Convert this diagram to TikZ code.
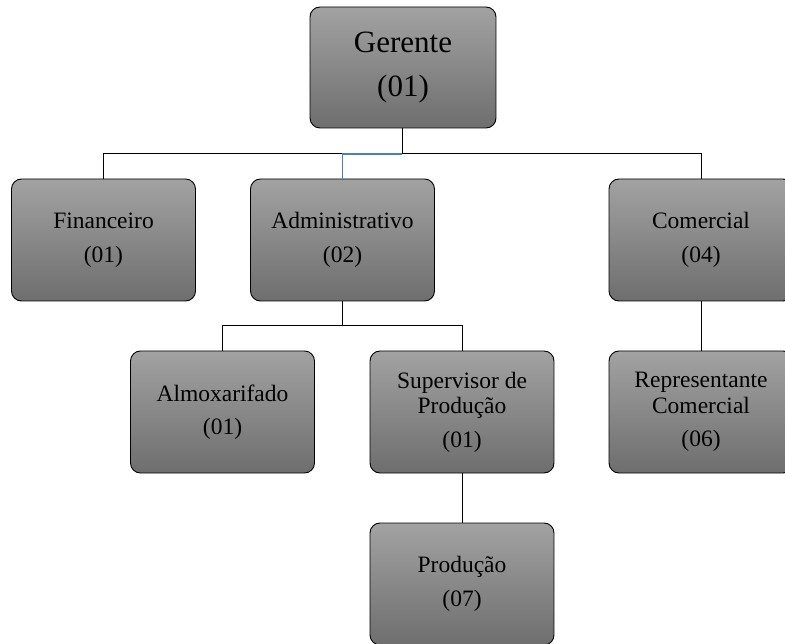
\documentclass[tikz,border=0pt]{standalone}
\usepackage{fontspec}
\setmainfont{Liberation Serif}

\tikzset{
  cargo/.style={draw=black, line width=0.9pt, rounded corners=10pt,
    top color={rgb,255:red,162;green,162;blue,162},
    bottom color={rgb,255:red,110;green,110;blue,110},
    minimum width=184pt, minimum height=122pt, inner sep=2pt,
    align=center, font=\fontsize{23.5}{25.5}\selectfont},
  elo/.style={draw=black, line width=0.9pt},
  eloazul/.style={draw={rgb,255:red,74;green,126;blue,184}, line width=1.3pt}
}

\begin{document}
\begin{tikzpicture}[x=1pt,y=1pt,yscale=-1]
    \useasboundingbox (0,0) rectangle (785,644);
    \clip (0,0) rectangle (785,644);

    % gerente
    \node [cargo, minimum width=186pt, minimum height=121pt,
      font=\fontsize{31}{34}\selectfont] (ger) at (403,67.5) {Gerente\\[10pt](01)};

    % setores
    \node [cargo] (fin) at (103.5,240) {Financeiro\\[8pt](01)};
    \node [cargo] (adm) at (342.5,240) {Administrativo\\[8pt](02)};
    \node [cargo] (com) at (701,240) {Comercial\\[8pt](04)};

    \node [cargo] (alm) at (222.5,412) {Almoxarifado\\[8pt](01)};
    \node [cargo] (sup) at (462,412) {Supervisor de\\Produção\\[8pt](01)};
    \node [cargo] (rep) at (701,412) {Representante\\Comercial\\[8pt](06)};

    \node [cargo] (pro) at (462,584) {Produção\\[8pt](07)};

    % ligacoes
    \coordinate (barra) at (402,154);
    \draw [elo] (ger.south -| barra) -- (barra);
    \draw [elo] (fin.north) -- ++(0,-25) -| (com.north);
    \draw [eloazul] (adm.north) |- (barra);

    \draw [elo] (adm.south) -- ++(0,25);
    \draw [elo] (alm.north) -- ++(0,-25) -| (sup.north);
    \draw [elo] (sup.south) -- (pro.north);
    \draw [elo] (com.south) -- (rep.north);
\end{tikzpicture}
\end{document}
